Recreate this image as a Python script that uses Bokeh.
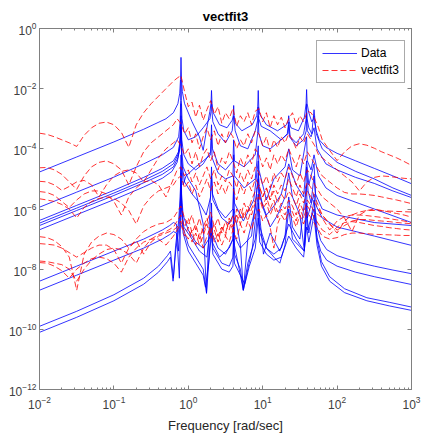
from bokeh.plotting import figure
from bokeh.models import Range1d, FixedTicker, LogAxis, Legend, LegendItem, CustomJSTickFormatter
from bokeh.embed import file_html
from bokeh.resources import INLINE

# ---------------- data (log10 values) ----------------
X_TICK_EXP = [-2, -1, 0, 1, 2, 3]
Y_TICK_EXP = [-12, -10, -8, -6, -4, -2, 0]

# Data curves (blue): log10(frequency), log10(magnitude)
d1_logf = [-2, -1.5, -1, -0.6, -0.3, -0.2, -0.14, -0.115, -0.105, -0.098, -0.091, -0.08, -0.05, 0.05, 0.15, 0.2, 0.25, 0.29, 0.305, 0.312, 0.319, 0.335, 0.42, 0.52, 0.59, 0.604, 0.61, 0.616, 0.63, 0.72, 0.86, 0.92, 0.933, 0.94, 0.947, 0.96, 1.05, 1.2, 1.32, 1.344, 1.35, 1.356, 1.38, 1.48, 1.56, 1.583, 1.59, 1.597, 1.62, 1.66, 1.684, 1.69, 1.696, 1.72, 1.76, 1.85, 2.0, 2.25, 2.5, 2.75, 3.0]
d1_logm = [-4.77, -4.27, -3.77, -3.35, -3.0, -2.8, -2.5, -2.15, -1.7, -0.96, -1.65, -2.1, -2.5, -3.1, -3.6, -4.05, -3.3, -2.75, -2.5, -2.06, -2.5, -2.8, -3.2, -3.3, -3.05, -2.9, -2.56, -2.9, -3.15, -3.4, -3.2, -2.9, -2.6, -2.06, -2.6, -2.85, -3.2, -3.4, -3.2, -3.05, -2.9, -3.1, -3.3, -3.4, -2.95, -2.5, -2.03, -2.5, -2.8, -3.1, -3.0, -2.9, -3.1, -3.4, -3.7, -3.95, -4.15, -4.4, -4.65, -4.9, -5.16]

d2_logf = [-2, -1.5, -1, -0.6, -0.35, -0.2, -0.13, -0.11, -0.103, -0.098, -0.093, -0.085, -0.06, 0.0, 0.1, 0.2, 0.29, 0.306, 0.312, 0.318, 0.33, 0.4, 0.5, 0.59, 0.61, 0.63, 0.7, 0.8, 0.9, 0.932, 0.94, 0.948, 0.98, 1.1, 1.25, 1.33, 1.35, 1.37, 1.45, 1.55, 1.584, 1.59, 1.596, 1.62, 1.66, 1.69, 1.72, 1.8, 2.0, 2.25, 2.5, 2.75, 3.0]
d2_logm = [-5.94, -5.44, -4.94, -4.5, -4.2, -3.95, -3.6, -3.1, -2.4, -1.7, -2.4, -3.0, -3.4, -3.7, -3.6, -3.3, -3.0, -2.75, -2.4, -2.75, -3.1, -3.5, -3.8, -3.4, -2.9, -3.4, -3.9, -4.0, -3.4, -3.05, -2.6, -3.0, -3.25, -3.4, -3.7, -3.5, -3.1, -3.6, -3.8, -3.5, -3.0, -2.5, -3.0, -3.3, -3.5, -2.7, -3.5, -4.0, -4.45, -4.75, -5.0, -5.3, -5.55]

d3_logf = [-2, -1.5, -1, -0.6, -0.35, -0.2, -0.13, -0.108, -0.102, -0.098, -0.094, -0.088, -0.06, 0.0, 0.1, 0.2, 0.3, 0.312, 0.325, 0.4, 0.5, 0.6, 0.61, 0.62, 0.75, 0.9, 0.932, 0.94, 0.948, 1.0, 1.1, 1.2, 1.34, 1.35, 1.36, 1.45, 1.55, 1.585, 1.59, 1.6, 1.65, 1.69, 1.73, 1.85, 2.0, 2.25, 2.5, 2.75, 3.0]
d3_logm = [-6.38, -5.88, -5.38, -4.95, -4.65, -4.4, -4.1, -3.6, -3.1, -2.5, -3.1, -3.7, -4.2, -4.5, -4.7, -4.5, -4.1, -3.2, -4.0, -4.5, -4.7, -4.4, -3.7, -4.4, -4.6, -4.2, -3.5, -2.9, -3.5, -3.9, -4.0, -3.8, -3.5, -3.2, -3.6, -3.9, -3.7, -3.4, -2.8, -3.4, -3.6, -3.3, -4.0, -4.5, -4.7, -4.95, -5.15, -5.4, -5.62]

d4_logf = [-2, -1.5, -1, -0.6, -0.35, -0.2, -0.14, -0.11, -0.098, -0.09, -0.07, -0.03, 0.1, 0.2, 0.3, 0.312, 0.32, 0.4, 0.5, 0.6, 0.61, 0.62, 0.75, 0.9, 0.94, 0.95, 1.0, 1.05, 1.15, 1.3, 1.35, 1.4, 1.5, 1.59, 1.6, 1.65, 1.69, 1.75, 1.85, 2.0, 2.5, 3.0]
d4_logm = [-6.47, -5.97, -5.47, -5.05, -4.75, -4.5, -4.2, -3.8, -3.2, -4.3, -5.2, -4.9, -4.6, -4.4, -4.2, -3.5, -4.3, -4.8, -5.0, -4.9, -4.2, -4.9, -5.3, -5.0, -3.9, -4.7, -5.2, -5.7, -5.0, -4.6, -4.0, -4.7, -4.9, -3.6, -4.4, -4.7, -4.2, -4.9, -5.3, -5.55, -6.0, -6.45]

d5_logf = [-2, -1.5, -1, -0.6, -0.35, -0.2, -0.14, -0.11, -0.098, -0.09, -0.05, 0.05, 0.15, 0.24, 0.3, 0.312, 0.325, 0.4, 0.5, 0.6, 0.61, 0.62, 0.74, 0.88, 0.94, 0.95, 1.01, 1.1, 1.2, 1.3, 1.35, 1.4, 1.5, 1.56, 1.59, 1.61, 1.65, 1.69, 1.72, 1.8, 2.0, 2.5, 3.0]
d5_logm = [-6.55, -6.05, -5.55, -5.13, -4.85, -4.6, -4.3, -3.9, -3.3, -4.4, -5.1, -5.5, -5.8, -6.2, -5.6, -4.6, -5.5, -6.0, -6.3, -6.0, -4.9, -5.8, -6.4, -5.7, -4.4, -5.3, -6.0, -6.6, -6.2, -5.6, -4.8, -5.6, -6.2, -7.4, -4.6, -5.4, -5.8, -4.9, -5.9, -6.3, -6.6, -6.9, -7.21]

d6_logf = [-2, -1.5, -1, -0.6, -0.35, -0.22, -0.15, -0.115, -0.098, -0.088, -0.07, 0.0, 0.1, 0.2, 0.245, 0.29, 0.312, 0.33, 0.45, 0.55, 0.6, 0.61, 0.62, 0.7, 0.74, 0.8, 0.9, 0.94, 0.96, 1.05, 1.15, 1.25, 1.35, 1.45, 1.55, 1.59, 1.62, 1.69, 1.71, 1.8, 2.0, 2.5, 3.0]
d6_logm = [-6.69, -6.19, -5.69, -5.27, -4.98, -4.75, -4.45, -4.0, -2.9, -4.0, -4.6, -5.0, -5.4, -6.5, -8.8, -6.0, -4.9, -5.7, -6.3, -6.5, -6.2, -5.3, -6.1, -7.2, -8.7, -7.0, -6.0, -4.8, -5.6, -6.2, -5.9, -5.5, -4.5, -5.2, -5.6, -4.4, -5.2, -4.5, -5.5, -6.0, -6.2, -6.45, -6.55]

d7_logf = [-2, -1.5, -1, -0.6, -0.35, -0.25, -0.2, -0.16, -0.13, -0.11, -0.098, -0.09, -0.07, 0.0, 0.1, 0.2, 0.3, 0.312, 0.32, 0.4, 0.5, 0.6, 0.61, 0.62, 0.7, 0.85, 0.94, 0.95, 1.01, 1.1, 1.23, 1.3, 1.35, 1.4, 1.5, 1.59, 1.6, 1.69, 1.7, 1.73, 1.78, 1.86, 2.0, 2.25, 2.5, 2.75, 3.0]
d7_logm = [-8.4, -7.9, -7.4, -7.0, -6.7, -6.55, -6.45, -6.5, -7.4, -6.3, -4.2, -5.5, -6.2, -6.7, -7.1, -7.3, -6.9, -5.8, -6.8, -7.3, -7.5, -7.0, -6.0, -6.9, -7.3, -6.9, -5.0, -6.0, -7.5, -6.8, -7.4, -6.9, -5.6, -6.6, -7.0, -5.2, -6.3, -5.5, -5.9, -6.6, -7.05, -7.35, -7.55, -7.75, -7.9, -8.03, -8.15]

d8_logf = [-2, -1.5, -1, -0.6, -0.35, -0.25, -0.2, -0.16, -0.14, -0.12, -0.105, -0.098, -0.09, -0.06, 0.05, 0.15, 0.25, 0.312, 0.32, 0.42, 0.55, 0.6, 0.61, 0.62, 0.74, 0.86, 0.94, 0.95, 1.05, 1.15, 1.23, 1.3, 1.35, 1.4, 1.56, 1.59, 1.6, 1.69, 1.7, 1.73, 1.78, 1.86, 2.0, 2.25, 2.5, 2.75, 3.0]
d8_logm = [-8.7, -8.2, -7.7, -7.3, -7.0, -6.85, -6.75, -6.8, -7.5, -8.3, -6.5, -4.6, -5.9, -6.6, -7.0, -7.4, -7.6, -6.2, -7.1, -7.6, -7.3, -7.0, -6.4, -7.2, -8.7, -7.3, -5.5, -6.5, -7.3, -7.6, -7.8, -7.2, -6.0, -7.0, -7.4, -5.8, -6.7, -6.0, -6.3, -6.95, -7.4, -7.7, -7.9, -8.1, -8.25, -8.38, -8.51]

d9_logf = [-2, -1.5, -1, -0.6, -0.4, -0.28, -0.24, -0.2, -0.17, -0.13, -0.11, -0.098, -0.09, -0.07, 0.0, 0.1, 0.2, 0.245, 0.28, 0.312, 0.33, 0.45, 0.55, 0.6, 0.61, 0.62, 0.7, 0.74, 0.8, 0.9, 0.94, 0.96, 1.05, 1.15, 1.25, 1.35, 1.45, 1.56, 1.59, 1.62, 1.69, 1.7, 1.73, 1.79, 1.9, 2.1, 2.4, 2.7, 3.0]
d9_logm = [-9.9, -9.4, -8.85, -8.3, -7.9, -7.55, -7.4, -8.3, -7.2, -6.4, -5.6, -4.8, -5.8, -6.6, -7.2, -7.6, -8.0, -8.8, -7.6, -6.3, -7.3, -7.8, -7.9, -7.6, -6.6, -7.5, -8.0, -8.7, -7.8, -7.0, -5.8, -6.8, -7.3, -7.5, -7.3, -6.5, -7.0, -7.4, -6.1, -6.8, -5.7, -6.0, -7.0, -7.75, -8.25, -8.65, -8.95, -9.1, -9.26]

d10_logf = [-2, -1.5, -1, -0.6, -0.4, -0.28, -0.24, -0.205, -0.17, -0.13, -0.11, -0.098, -0.09, -0.07, 0.0, 0.1, 0.2, 0.23, 0.27, 0.312, 0.33, 0.45, 0.55, 0.6, 0.61, 0.62, 0.7, 0.76, 0.82, 0.9, 0.94, 0.96, 1.05, 1.15, 1.25, 1.35, 1.45, 1.55, 1.59, 1.62, 1.69, 1.7, 1.73, 1.79, 1.9, 2.1, 2.4, 2.7, 3.0]
d10_logm = [-10.1, -9.6, -9.05, -8.5, -8.1, -7.75, -7.6, -8.4, -7.4, -6.7, -6.0, -5.3, -6.1, -6.8, -7.4, -7.8, -8.2, -8.6, -7.9, -6.8, -7.5, -8.0, -8.1, -7.9, -7.0, -7.8, -8.2, -8.5, -7.9, -7.3, -6.3, -7.1, -7.5, -7.7, -7.6, -6.9, -7.3, -7.6, -6.6, -7.1, -6.2, -6.5, -7.2, -7.9, -8.4, -8.78, -9.05, -9.22, -9.37]

# vectfit3 curves (red dashed), sampled on one shared log10 frequency grid
fit_logf = [-2.0, -1.9, -1.8, -1.7, -1.6, -1.5, -1.4, -1.3, -1.2, -1.1, -1.0, -0.9, -0.8, -0.7, -0.6, -0.5, -0.4, -0.3, -0.2,
            -0.15, -0.1, -0.05, 0.0, 0.05, 0.1, 0.15, 0.2, 0.25, 0.3, 0.35, 0.4, 0.45, 0.5, 0.55, 0.6, 0.65, 0.7, 0.75, 0.8,
            0.85, 0.9, 0.95, 1.0, 1.05, 1.1, 1.15, 1.2, 1.25, 1.3, 1.35, 1.4, 1.45, 1.5, 1.55, 1.6, 1.65, 1.7, 1.75,
            1.8, 1.9, 2.0, 2.1, 2.2, 2.3, 2.4, 2.5, 2.6, 2.7, 2.8, 2.9, 3.0]

f1_logm = [-3.48, -3.52, -3.6, -3.7, -3.8, -3.92, -3.55, -3.3, -3.15, -3.11, -3.2, -3.45, -3.95, -3.2, -2.8, -2.5, -2.25, -2.0, -1.75,
           -1.65, -1.56, -2.1, -2.6, -2.45, -2.95, -2.55, -3.05, -2.7, -2.4, -2.85, -2.6, -3.15, -2.8, -3.0, -2.65, -3.25, -2.9, -3.1, -2.8,
           -3.2, -2.75, -2.66, -3.1, -2.8, -3.3, -2.9, -3.2, -2.95, -3.3, -3.0, -2.8, -3.2, -2.9, -3.1, -2.75, -2.8, -3.0, -3.3,
           -3.7, -4.05, -4.39, -4.1, -3.9, -3.83, -3.88, -3.98, -4.1, -4.2, -4.3, -4.42, -4.55]
f2_logm = [-4.63, -4.62, -4.7, -4.85, -5.1, -5.35, -4.9, -4.6, -4.45, -4.4, -4.5, -4.7, -5.2, -4.6, -4.1, -3.8, -3.6, -3.4, -3.2,
           -3.0, -3.16, -3.5, -3.3, -3.8, -3.5, -4.0, -3.6, -3.3, -3.7, -3.4, -3.9, -3.5, -3.8, -3.4, -3.6, -4.0, -3.7, -3.9, -3.5,
           -3.8, -3.4, -3.5, -3.9, -3.6, -4.1, -3.7, -3.95, -3.6, -3.8, -3.5, -3.7, -4.0, -3.6, -3.8, -3.5, -3.7, -3.9, -4.2,
           -4.3, -4.5, -4.7, -4.9, -5.1, -5.4, -5.1, -4.95, -4.9, -4.92, -4.95, -4.98, -5.0]
f3_logm = [-5.08, -5.1, -5.2, -5.38, -5.25, -5.1, -5.05, -5.2, -5.6, -5.2, -4.9, -4.75, -4.7, -4.8, -5.1, -4.7, -4.3, -4.0, -3.8,
           -3.7, -3.9, -4.2, -4.0, -4.5, -4.1, -4.6, -4.2, -4.0, -4.4, -4.1, -4.7, -4.3, -4.5, -4.1, -4.4, -4.8, -4.3, -4.6, -4.2,
           -4.5, -4.0, -4.2, -4.6, -4.3, -4.7, -4.2, -4.5, -4.2, -4.4, -4.0, -4.3, -4.6, -4.2, -4.5, -4.1, -4.3, -4.5, -4.7,
           -4.9, -5.1, -5.3, -5.45, -5.5, -5.5, -5.52, -5.55, -5.6, -5.65, -5.7, -5.76, -5.82]
f4_logm = [-5.42, -5.45, -5.55, -5.75, -5.95, -5.7, -5.5, -5.4, -5.4, -5.5, -5.75, -6.2, -5.6, -5.3, -5.1, -5.05, -5.2, -5.6, -5.0,
           -4.7, -4.6, -4.9, -4.7, -5.1, -4.8, -5.2, -4.9, -4.6, -5.0, -4.7, -5.2, -4.9, -5.1, -4.7, -4.9, -5.3, -4.8, -5.1, -4.7,
           -5.0, -4.6, -4.8, -5.2, -4.9, -5.3, -4.8, -5.1, -4.8, -5.0, -4.6, -4.9, -5.2, -4.8, -5.1, -4.7, -4.9, -5.2, -5.4,
           -5.6, -5.8, -6.0, -6.3, -6.75, -6.2, -6.05, -6.0, -6.05, -6.1, -6.15, -6.2, -6.27]
f5_logm = [-5.66, -5.7, -5.75, -5.85, -6.0, -6.3, -5.95, -5.75, -5.65, -5.6, -5.65, -5.8, -6.05, -6.5, -5.9, -5.6, -5.4, -5.3, -5.2,
           -5.0, -4.9, -5.3, -5.1, -5.5, -5.2, -5.6, -5.3, -5.0, -5.4, -5.1, -5.5, -5.2, -5.5, -5.1, -5.3, -5.7, -5.2, -5.5, -5.1,
           -5.4, -5.0, -5.2, -5.6, -5.3, -5.7, -5.2, -5.5, -5.2, -5.4, -5.0, -5.3, -5.6, -5.2, -5.5, -5.1, -5.3, -5.6, -5.9,
           -6.2, -6.5, -6.7, -6.55, -6.4, -6.35, -6.35, -6.38, -6.4, -6.42, -6.45, -6.47, -6.49]
f6_logm = [-6.92, -6.95, -7.05, -7.25, -7.6, -8.7, -7.5, -7.1, -6.9, -6.8, -6.85, -7.0, -7.3, -7.0, -6.75, -6.6, -6.5, -6.45, -6.3,
           -6.1, -5.9, -6.3, -6.5, -6.2, -6.7, -6.3, -6.8, -6.4, -6.1, -6.6, -6.3, -6.8, -6.4, -6.7, -6.2, -6.5, -6.0, -6.3, -5.9,
           -6.2, -5.8, -5.6, -6.0, -5.8, -6.2, -5.9, -6.3, -6.0, -6.2, -5.9, -6.1, -6.4, -6.0, -6.3, -5.9, -6.1, -6.3, -6.5,
           -6.7, -6.85, -6.6, -6.45, -6.42, -6.45, -6.5, -6.55, -6.58, -6.62, -6.65, -6.68, -6.7]
f7_logm = [-7.15, -7.17, -7.2, -7.3, -7.45, -7.6, -7.45, -7.3, -7.2, -7.2, -7.35, -7.8, -7.3, -7.05, -7.5, -7.1, -6.9, -6.8, -6.7,
           -6.6, -6.4, -6.8, -7.0, -6.7, -7.2, -6.8, -7.3, -6.9, -6.6, -7.1, -6.8, -7.2, -6.9, -7.1, -6.7, -7.0, -6.5, -6.8, -6.4,
           -6.7, -6.2, -6.0, -6.4, -6.2, -6.6, -7.3, -6.5, -6.2, -6.4, -6.1, -6.3, -6.6, -6.2, -6.5, -6.1, -6.3, -6.5, -6.7,
           -6.9, -7.0, -6.95, -6.85, -6.8, -6.8, -6.82, -6.84, -6.85, -6.86, -6.87, -6.88, -6.88]
f8_logm = [-7.73, -7.75, -7.8, -7.85, -8.0, -8.4, -8.0, -7.7, -7.5, -7.35, -7.3, -7.35, -7.5, -7.8, -7.3, -7.0, -6.85, -6.75, -6.6,
           -6.4, -6.2, -6.6, -6.3, -6.8, -6.5, -7.0, -6.6, -6.3, -6.8, -6.5, -6.9, -6.6, -6.8, -6.4, -6.7, -6.2, -6.5, -6.1, -6.4,
           -6.0, -5.7, -5.5, -5.9, -5.6, -6.0, -5.7, -6.1, -5.8, -6.0, -5.7, -5.9, -6.2, -5.8, -6.1, -5.7, -5.9, -6.1, -6.2,
           -6.3, -6.7, -6.4, -6.25, -6.2, -6.2, -6.22, -6.25, -6.28, -6.32, -6.36, -6.4, -6.45]
f9_logm = [-7.78, -7.8, -7.9, -8.05, -8.3, -8.0, -7.8, -7.65, -7.6, -7.65, -7.8, -8.1, -7.6, -7.3, -7.1, -7.0, -7.0, -7.2, -6.9,
           -6.7, -6.5, -6.9, -6.6, -7.1, -6.8, -7.2, -6.9, -6.5, -7.0, -6.7, -7.1, -6.6, -6.9, -6.3, -6.6, -6.0, -6.3, -5.8, -6.1,
           -5.7, -5.4, -5.2, -5.6, -5.3, -5.7, -5.4, -5.8, -5.5, -5.7, -5.4, -5.6, -5.9, -5.5, -5.8, -5.4, -5.6, -5.8, -6.0,
           -6.2, -6.5, -6.8, -6.4, -6.2, -6.1, -6.05, -6.05, -6.06, -6.07, -6.08, -6.09, -6.1]

DATA_CURVES = [(d1_logf, d1_logm), (d2_logf, d2_logm), (d3_logf, d3_logm), (d4_logf, d4_logm), (d5_logf, d5_logm),
               (d6_logf, d6_logm), (d7_logf, d7_logm), (d8_logf, d8_logm), (d9_logf, d9_logm), (d10_logf, d10_logm)]
FIT_CURVES = [f1_logm, f2_logm, f3_logm, f4_logm, f5_logm, f6_logm, f7_logm, f8_logm, f9_logm]

# ---------------- figure ----------------
FONT = "Liberation Sans"
GREY = "#808080"

p = figure(width=423, height=436, x_axis_type="log", y_axis_type="log",
           x_range=Range1d(10.0 ** X_TICK_EXP[0], 10.0 ** X_TICK_EXP[-1]),
           y_range=Range1d(10.0 ** Y_TICK_EXP[0], 10.0 ** Y_TICK_EXP[-1]),
           output_backend="svg", toolbar_location=None,
           min_border_left=39, min_border_right=12, min_border_top=28, min_border_bottom=47)
p.background_fill_color = "white"
p.border_fill_color = "white"
p.outline_line_color = GREY
p.grid.visible = False

p.title.text = "vectfit3"
p.title.align = "center"
p.title.text_font = FONT
p.title.text_font_size = "13px"
p.title.text_font_style = "bold"
p.title.text_color = "black"

x_ticks = [10.0 ** e for e in X_TICK_EXP]
x_minor = [m * 10.0 ** e for e in X_TICK_EXP[:-1] for m in range(2, 10)]
y_ticks = [10.0 ** e for e in Y_TICK_EXP]


def style(ax):
    ax.axis_line_color = GREY
    ax.major_tick_line_color = GREY
    ax.minor_tick_line_color = GREY
    ax.major_tick_in = 4
    ax.major_tick_out = 0
    ax.minor_tick_in = 2
    ax.minor_tick_out = 0
    ax.major_label_text_font = FONT
    ax.major_label_text_color = "#404040"
    ax.major_label_text_font_size = "12px"


def hide_labels(ax):
    ax.formatter = CustomJSTickFormatter(code="return ' '")
    ax.major_label_text_font_size = "1px"
    ax.major_label_text_alpha = 0
    ax.major_label_standoff = 0


xa = p.xaxis[0]
xa.ticker = FixedTicker(ticks=x_ticks, minor_ticks=x_minor)
style(xa)
xa.major_label_standoff = 6
xa.axis_label = "Frequency [rad/sec]"
xa.axis_label_text_font = FONT
xa.axis_label_text_font_size = "13px"
xa.axis_label_text_font_style = "normal"
xa.axis_label_text_color = "#262626"
xa.axis_label_standoff = 6

ya = p.yaxis[0]
ya.ticker = FixedTicker(ticks=y_ticks, minor_ticks=[])
style(ya)
ya.major_label_standoff = 3

top = LogAxis(ticker=FixedTicker(ticks=x_ticks, minor_ticks=x_minor))
style(top)
hide_labels(top)
p.add_layout(top, "above")
right = LogAxis(ticker=FixedTicker(ticks=y_ticks, minor_ticks=[]))
style(right)
hide_labels(right)
p.add_layout(right, "right")

blue_r = []
for lf, lm in DATA_CURVES:
    n = min(len(lf), len(lm))
    r = p.line([10.0 ** v for v in lf[:n]], [10.0 ** v for v in lm[:n]],
               line_color="#0000ff", line_width=1.0, line_alpha=0.8)
    blue_r.append(r)

red_r = []
for lm in FIT_CURVES:
    n = min(len(fit_logf), len(lm))
    r = p.line([10.0 ** v for v in fit_logf[:n]], [10.0 ** v for v in lm[:n]],
               line_color="#ff0000", line_width=1.0, line_alpha=0.8, line_dash="6 3")
    red_r.append(r)

legend = Legend(items=[LegendItem(label="Data", renderers=[blue_r[0]]),
                       LegendItem(label="vectfit3", renderers=[red_r[0]])],
                location=(277, 306))
legend.label_text_font = FONT
legend.label_text_font_size = "12px"
legend.label_text_color = "black"
legend.glyph_width = 35
legend.glyph_height = 14
legend.label_height = 14
legend.spacing = 3
legend.padding = 5
legend.margin = 0
legend.label_standoff = 4
legend.border_line_color = "#555555"
legend.background_fill_color = "white"
legend.background_fill_alpha = 1.0
p.add_layout(legend)

open("out.html", "w").write(file_html(p, INLINE))
